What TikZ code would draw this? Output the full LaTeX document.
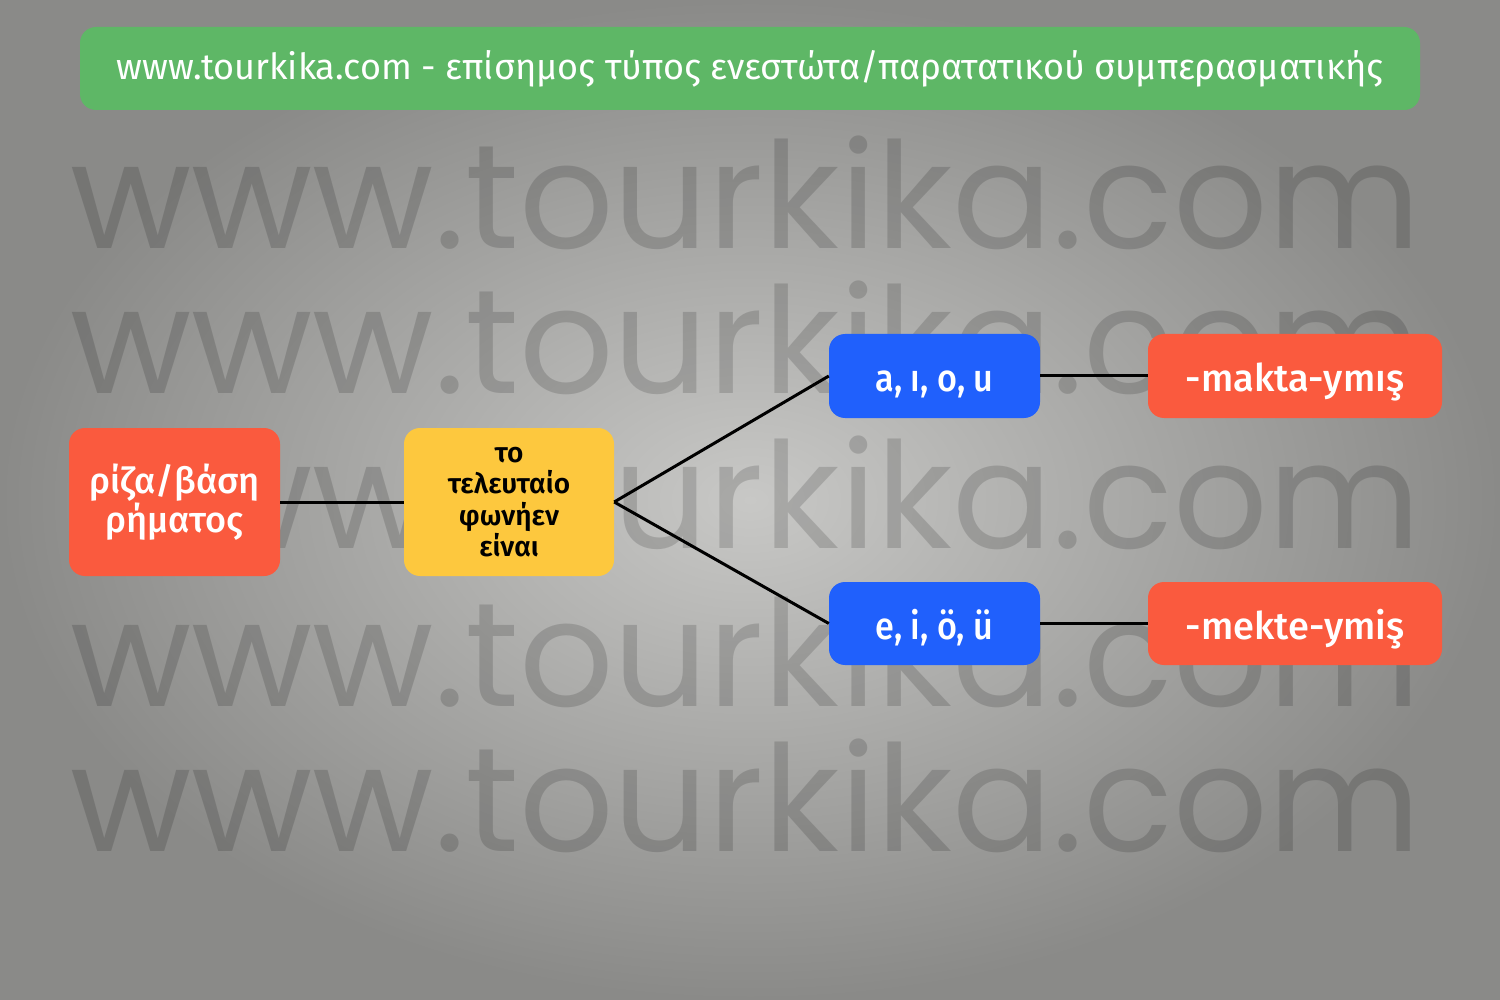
\documentclass[tikz,border=0pt]{standalone}
\usepackage{fontspec}
\setmainfont{Fira Sans}[UprightFont={* Medium}, BoldFont={* SemiBold}]
\newfontfamily\titlefont{Fira Sans}
\newfontfamily\wmfont{Poppins}
\definecolor{bgin}{RGB}{200,200,198}
\definecolor{bgout}{RGB}{138,138,136}
\definecolor{titlegreen}{RGB}{94,183,102}
\definecolor{boxred}{RGB}{250,90,62}
\definecolor{boxyellow}{RGB}{253,200,62}
\definecolor{boxblue}{RGB}{32,96,252}
\begin{document}
\begin{tikzpicture}[x=1pt,y=-1pt,
  box/.style={rounded corners=16pt, inner sep=0pt, align=center},
  whitetext/.style={text=white, font=\fontsize{36}{39}\selectfont},
  oneline/.style={text=white, font=\fontsize{38}{42}\selectfont, text height=31pt, text depth=0pt},
  conn/.style={draw=black, line width=3pt},
  wm/.style={anchor=base west, inner sep=0pt, text=black, opacity=0.15,
    font=\wmfont\fontsize{148}{148}\selectfont}]
\useasboundingbox (0,0) rectangle (1500,1000);
\shade[inner color=bgin, outer color=bgout] (0,0) rectangle (1500,1000);
% watermark
\node[wm] (wm1) at (70,249) {www.tourkika.com};
\node[wm] (wm2) at (70,394) {www.tourkika.com};
\node[wm] (wm3) at (70,548) {www.tourkika.com};
\node[wm] (wm4) at (70,706) {www.tourkika.com};
\node[wm] (wm5) at (70,851) {www.tourkika.com};
% title
\node[box, fill=titlegreen, minimum width=1340pt, minimum height=83pt,
  text=white, font=\titlefont\fontsize{36}{40}\selectfont] (title) at (750,68.5)
  {www.tourkika.com - επίσημος τύπος ενεστώτα/παρατατικού συμπερασματικής};
% nodes
\node[box, fill=boxred, minimum width=211pt, minimum height=148pt, whitetext] (root) at (174.5,502)
  {ρίζα/βάση\\ρήματος};
\node[box, fill=boxyellow, minimum width=210pt, minimum height=148pt,
  text=black, font=\bfseries\fontsize{28}{31.5}\selectfont] (vowel) at (509,502)
  {το\\τελευταίο\\φωνήεν\\είναι};
\node[box, fill=boxblue, minimum width=211pt, minimum height=84pt, oneline] (back) at (934.5,376)
  {\scalebox{0.9}[1]{a, ı, o, u}};
\node[box, fill=boxblue, minimum width=211pt, minimum height=83pt, oneline] (front) at (934.5,623.5)
  {\scalebox{0.9}[1]{e, i, ö, ü}};
\node[box, fill=boxred, minimum width=294pt, minimum height=84pt, oneline] (makta) at (1295,376)
  {-makta-ymış};
\node[box, fill=boxred, minimum width=294pt, minimum height=83pt, oneline] (mekte) at (1295,623.5)
  {-mekte-ymiş};
% connectors
\draw[conn] (root.east) -- (vowel.west);
\draw[conn] (vowel.east) -- (back.west);
\draw[conn] (vowel.east) -- (front.west);
\draw[conn] (back.east) -- (makta.west);
\draw[conn] (front.east) -- (mekte.west);
\end{tikzpicture}
\end{document}
